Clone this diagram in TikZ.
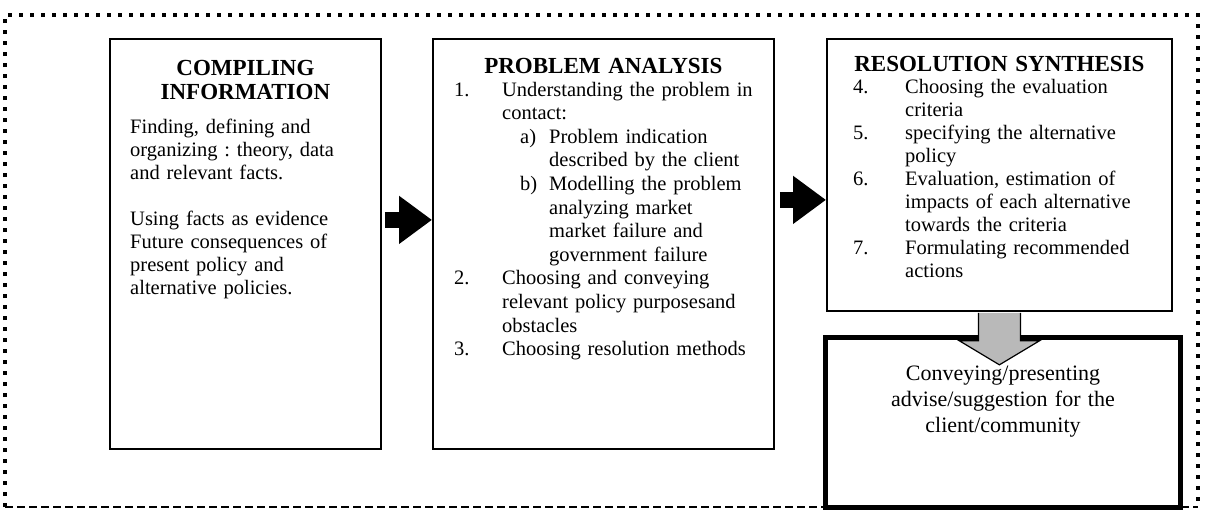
\documentclass[tikz,border=0pt]{standalone}
\usepackage{fontspec}
\setmainfont{Liberation Serif}
\usetikzlibrary{calc,arrows.meta}
\frenchspacing
\begin{document}
\begin{tikzpicture}[x=1pt,y=-1pt,
  box/.style={draw=black, line width=1.8pt, inner sep=0pt, anchor=north west},
  body/.style={font=\fontsize{20.5}{23}\selectfont, align=left, inner sep=0pt, anchor=base west, text width=330pt},
  ttl/.style={font=\fontsize{23}{24}\selectfont\bfseries, align=center, inner sep=0pt, anchor=base, text width=330pt},
  blk/.style={line width=16pt, black, -{Triangle[width=46pt,length=33pt]}},
]
\useasboundingbox (0,0) rectangle (1206,512);
% outer frame
\coordinate (fTL) at (5,15);
\coordinate (fTR) at (1198,15);
\coordinate (fBL) at (5,507);
\coordinate (fBR) at (1198,507);
\draw[line width=4pt, dash pattern=on 4pt off 7pt] (fBL) -- (fTL) -- (fTR) -- (fBR);
\draw[line width=1.6pt, dash pattern=on 8pt off 4pt] (fBL) -- (fBR);
% boxes
\node[box, minimum width=271pt, minimum height=410pt] (b1) at (109,38) {};
\node[box, minimum width=341pt, minimum height=410pt] (b2) at (432,38) {};
\node[box, minimum width=345pt, minimum height=272pt] (b3) at (826,38) {};
\node[box, line width=5pt, minimum width=355pt, minimum height=170pt] (b4) at (823,335) {};
% titles
\node[ttl] (h1) at ($(b1.north)+(0,37)$) {COMPILING\\INFORMATION};
\node[ttl] (h2) at ($(b2.north)+(0,35)$) {PROBLEM ANALYSIS};
\node[ttl] (h3) at ($(b3.north)+(0,33)$) {RESOLUTION SYNTHESIS};
% body texts
\node[body] (t1) at (130,133) {Finding, defining and\\
organizing : theory, data\\
and relevant facts.\\[23pt]
Using facts as evidence\\
Future consequences of\\
present policy and\\
alternative policies.};
\node[body, font=\fontsize{20.5}{23.6}\selectfont] (t2) at (454,96) {\makebox[48pt][l]{1.}Understanding the problem in\\
\hspace*{48pt}contact:\\
\hspace*{66pt}\makebox[29pt][l]{a)}Problem indication\\
\hspace*{95pt}described by the client\\
\hspace*{66pt}\makebox[29pt][l]{b)}Modelling the problem\\
\hspace*{95pt}analyzing market\\
\hspace*{95pt}market failure and\\
\hspace*{95pt}government failure\\
\makebox[48pt][l]{2.}Choosing and conveying\\
\hspace*{48pt}relevant policy purposesand\\
\hspace*{48pt}obstacles\\
\makebox[48pt][l]{3.}Choosing resolution methods};
\node[body] (t3) at (853,93) {\makebox[52pt][l]{4.}Choosing the evaluation\\
\hspace*{52pt}criteria\\
\makebox[52pt][l]{5.}specifying the alternative\\
\hspace*{52pt}policy\\
\makebox[52pt][l]{6.}Evaluation, estimation of\\
\hspace*{52pt}impacts of each alternative\\
\hspace*{52pt}towards the criteria\\
\makebox[52pt][l]{7.}Formulating recommended\\
\hspace*{52pt}actions};
\node[font=\fontsize{22}{26}\selectfont, align=center, inner sep=0pt, anchor=base, text width=340pt] (t4) at ($(b4.north)+(0,45)$) {Conveying/presenting\\
advise/suggestion for the\\
client/community};
% black arrows
\coordinate (a1s) at ($(b1.east)+(3,-24)$);
\draw[blk] (a1s) -- (b2.west |- a1s);
\coordinate (a2s) at ($(b2.east)+(5,-44)$);
\draw[blk] (a2s) -- (b3.west |- a2s);
% gray arrow
\filldraw[fill=gray!55, draw=black, line width=1.2pt]
  ($(b3.south)+(-21,1)$) -- ($(b3.south)+(-21,29)$) -- ($(b3.south)+(-40,29)$)
  -- ($(b3.south)+(0,53)$) -- ($(b3.south)+(40,29)$) -- ($(b3.south)+(21,29)$)
  -- ($(b3.south)+(21,1)$);
\end{tikzpicture}
\end{document}
